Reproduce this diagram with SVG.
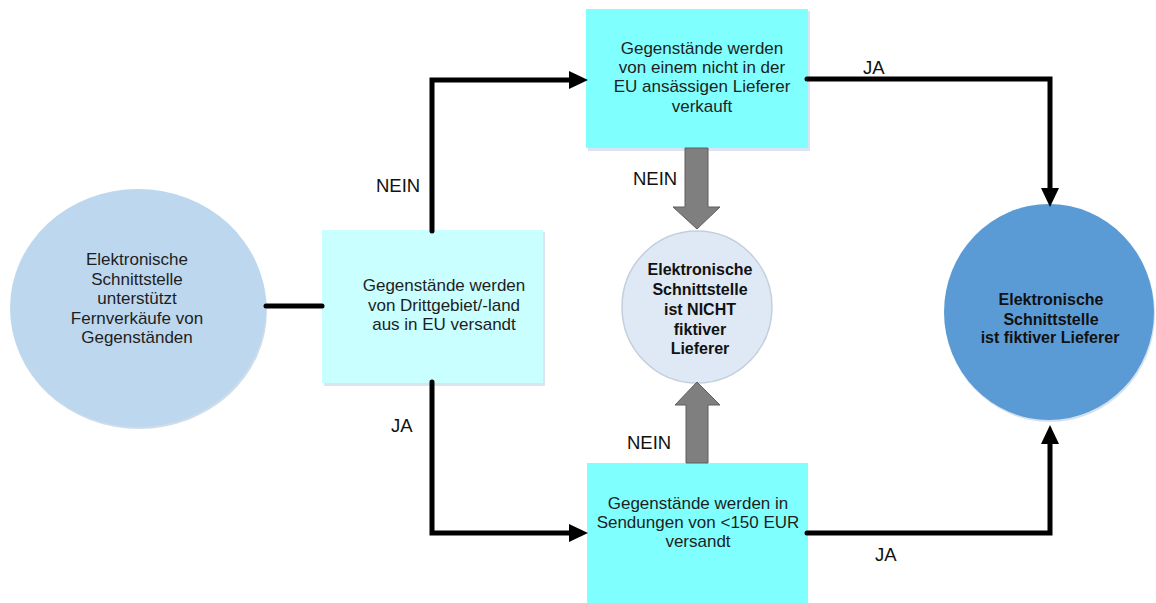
<svg xmlns="http://www.w3.org/2000/svg" width="1156" height="603" viewBox="0 0 1156 603">
  <style>
    .txt { font-family: "Liberation Sans", Arial, sans-serif; font-size: 17px; fill: #1e1e1e; text-anchor: middle; }
    .bold { font-family: "Liberation Sans", Arial, sans-serif; font-size: 16px; font-weight: bold; fill: #111; text-anchor: middle; }
    .lbl { font-family: "Liberation Sans", Arial, sans-serif; font-size: 18.5px; fill: #111; }
    .wire { fill: none; stroke: #000; stroke-width: 5; stroke-linejoin: miter; stroke-linecap: round; }
    .fat { fill: #7f7f7f; stroke: #5e5e5e; stroke-width: 1; }
    .shadow { fill: #dbe5f1; }
  </style>
  <defs>
    <marker id="head" viewBox="0 0 19 18" markerWidth="19" markerHeight="18" refX="7" refY="9" orient="auto" markerUnits="userSpaceOnUse">
      <polygon points="0,0 19,9 0,18" fill="#000"/>
    </marker>
  </defs>

  <rect width="1156" height="603" fill="#fff"/>

  <!-- start: electronic interface supports distance sales -->
  <g id="start">
    <ellipse cx="139" cy="311" rx="128" ry="118" fill="#cfdcea"/>
    <ellipse cx="138" cy="308" rx="128" ry="119" fill="#bdd7ee"/>
    <text class="txt" x="137" y="265">Elektronische</text>
    <text class="txt" x="137" y="284.5">Schnittstelle</text>
    <text class="txt" x="137" y="304">unterstützt</text>
    <text class="txt" x="137" y="323.5">Fernverkäufe von</text>
    <text class="txt" x="137" y="343">Gegenständen</text>
  </g>

  <!-- decision: shipped from third territory into the EU -->
  <g id="q-third-country">
    <rect class="shadow" x="324" y="232" width="221" height="154"/>
    <rect x="322" y="230" width="221" height="153" fill="#c9ffff"/>
    <text class="txt" x="444" y="291">Gegenstände werden</text>
    <text class="txt" x="444" y="310.5">von Drittgebiet/-land</text>
    <text class="txt" x="444" y="330">aus in EU versandt</text>
  </g>

  <!-- decision: seller not established in the EU -->
  <g id="q-seller">
    <rect class="shadow" x="588" y="11" width="222" height="140"/>
    <rect x="586" y="9" width="222" height="139" fill="#80ffff"/>
    <text class="txt" x="702" y="54">Gegenstände werden</text>
    <text class="txt" x="702" y="73.2">von einem nicht in der</text>
    <text class="txt" x="702" y="92.4">EU ansässigen Lieferer</text>
    <text class="txt" x="702" y="111.6">verkauft</text>
  </g>

  <!-- decision: consignments below 150 EUR -->
  <g id="q-value">
    <rect x="587" y="463" width="221" height="140" fill="#80ffff"/>
    <text class="txt" x="698" y="508.6">Gegenstände werden in</text>
    <text class="txt" x="698" y="527.8">Sendungen von &lt;150 EUR</text>
    <text class="txt" x="698" y="547">versandt</text>
  </g>

  <!-- outcome: not a deemed supplier -->
  <g id="not-deemed">
    <ellipse cx="697" cy="307" rx="75" ry="76" fill="#dee9f5" stroke="#c3cfdc" stroke-width="1.5"/>
    <text class="bold" x="700" y="275">Elektronische</text>
    <text class="bold" x="700" y="295">Schnittstelle</text>
    <text class="bold" x="700" y="315">ist NICHT</text>
    <text class="bold" x="700" y="334.5">fiktiver</text>
    <text class="bold" x="700" y="354">Lieferer</text>
  </g>

  <!-- outcome: deemed supplier -->
  <g id="deemed">
    <ellipse cx="1050" cy="314" rx="105" ry="108" fill="#d5e1ee"/>
    <ellipse cx="1049" cy="312" rx="105" ry="108" fill="#5b9bd5"/>
    <text class="bold" x="1051" y="305">Elektronische</text>
    <text class="bold" x="1051" y="324.5">Schnittstelle</text>
    <text class="bold" x="1050" y="343">ist fiktiver Lieferer</text>
  </g>

  <!-- connectors -->
  <g id="connectors">
    <path class="wire" d="M266,306 H322"/>
    <path class="wire" d="M432,231 V80 H576" marker-end="url(#head)"/>
    <path class="wire" d="M432,382 V533 H576" marker-end="url(#head)"/>
    <path class="wire" d="M807,79 H1050 V195" marker-end="url(#head)"/>
    <path class="wire" d="M807,533 H1050 V437" marker-end="url(#head)"/>
    <polygon class="fat" points="685,148 708,148 708,207 720,207 697,229 673,207 685,207"/>
    <polygon class="fat" points="686,463 708,463 708,405 720,405 697,382 675,405 686,405"/>
  </g>

  <!-- branch labels -->
  <g id="labels">
    <text class="lbl" x="376" y="192">NEIN</text>
    <text class="lbl" x="391" y="432">JA</text>
    <text class="lbl" x="633" y="185">NEIN</text>
    <text class="lbl" x="627" y="449">NEIN</text>
    <text class="lbl" x="863" y="74">JA</text>
    <text class="lbl" x="875" y="561">JA</text>
  </g>
</svg>
